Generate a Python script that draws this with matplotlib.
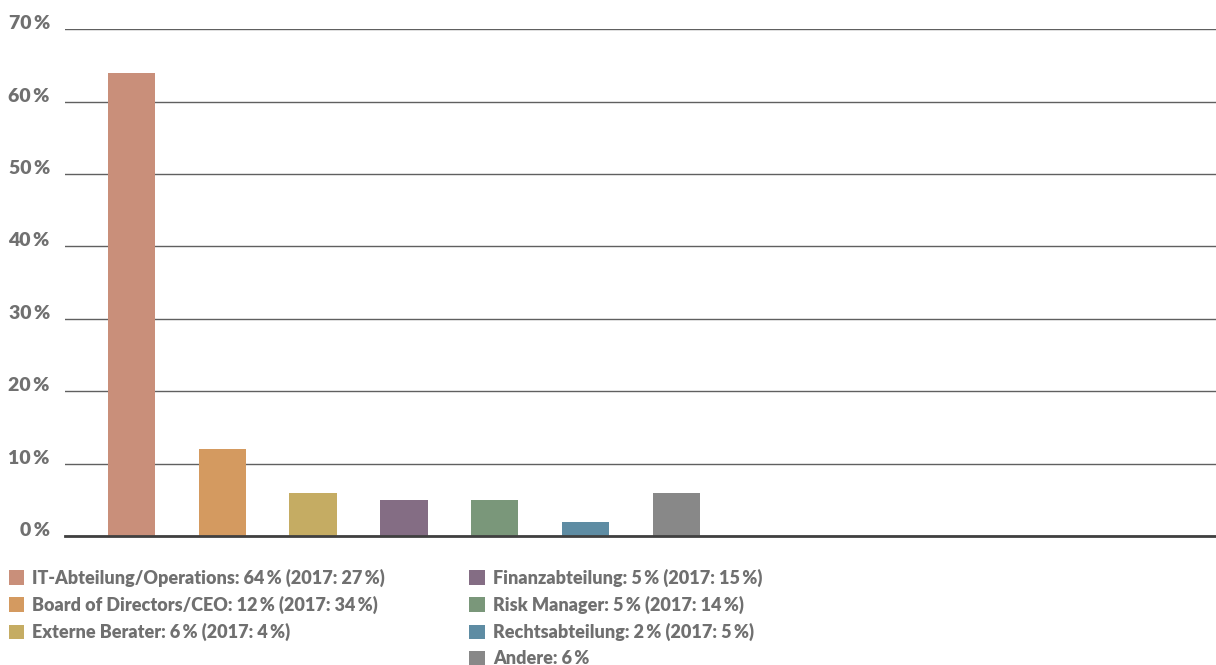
import matplotlib.pyplot as plt
from matplotlib.patches import Patch

# Who is responsible for the topic, share of answers
categories = ["IT-Abteilung/Operations", "Board of Directors/CEO", "Externe Berater",
              "Finanzabteilung", "Risk Manager", "Rechtsabteilung", "Andere"]
values_2018 = [64, 12, 6, 5, 5, 2, 6]
values_2017 = [27, 34, 4, 15, 14, 5, None]
colors = ["#C98F7A", "#D49A60", "#C5AC63", "#846D84", "#7A977A", "#5E8CA3", "#888888"]

yticks = [0, 10, 20, 30, 40, 50, 60, 70]
sp = "\u2009"
text_color = "#707070"
weight = 800

plt.rcParams['font.family'] = ['Lato', 'DejaVu Sans']

fig = plt.figure(figsize=(12.16, 6.65), dpi=100)
ax = fig.add_axes([0.0535, 0.194, 0.9465, 0.762])

x = list(range(len(categories)))
bars = ax.bar(x, values_2018, width=0.52, color=colors, zorder=3)

ax.set_xlim(-0.73, 11.94)
ax.set_ylim(0, 70)
ax.set_yticks(yticks)
ax.set_yticklabels([f"{v}{sp}%" for v in yticks], fontsize=14, fontweight=weight,
                   color=text_color)
for lbl in ax.get_yticklabels():
    lbl.set_verticalalignment('baseline')
ax.tick_params(axis='y', length=0, pad=11)
ax.set_xticks([])
ax.grid(axis='y', color='#606060', linewidth=1.0, zorder=0)
for s in ["top", "right", "left"]:
    ax.spines[s].set_visible(False)
ax.spines["bottom"].set_color("#404040")
ax.spines["bottom"].set_linewidth(2)
ax.spines["bottom"].set_zorder(4)

# legend labels with previous year in brackets
labels = []
for name, v, old in zip(categories, values_2018, values_2017):
    lab = f"{name}: {v}{sp}%"
    if old is not None:
        lab += f" (2017: {old}{sp}%)"
    labels.append(lab)

handles = [Patch(facecolor=c, edgecolor='none') for c in colors]
leg_kw = dict(frameon=False, prop=dict(size=13, weight=weight), handlelength=0.85,
              handleheight=0.85, handletextpad=0.45, labelspacing=0.5,
              borderaxespad=0, borderpad=0, loc='upper left')
leg1 = fig.legend(handles[:3], labels[:3], bbox_to_anchor=(0.007, 0.145), **leg_kw)
leg2 = fig.legend(handles[3:], labels[3:], bbox_to_anchor=(0.386, 0.145), **leg_kw)
for leg in (leg1, leg2):
    for t in leg.get_texts():
        t.set_color(text_color)

fig.savefig("out.png", dpi=100)
